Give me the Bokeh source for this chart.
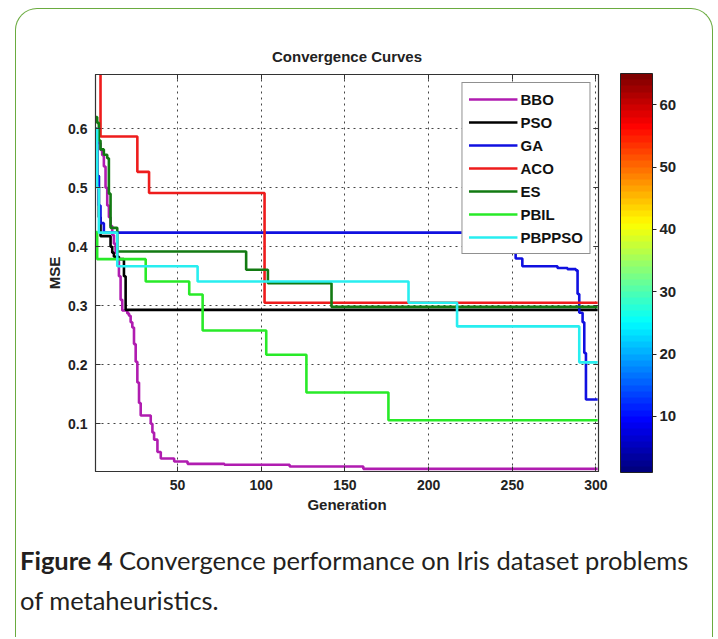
from bokeh.plotting import figure
from bokeh.models import (Range1d, LinearAxis, FixedTicker, Legend, LegendItem, ColorBar,
                          LinearColorMapper, Spacer)
from bokeh.layouts import column, row
from bokeh.core.properties import value
from bokeh.embed import file_html
from bokeh.resources import INLINE

# ---------------- data ----------------
bbo_gen = [1, 2, 4, 5, 6, 7, 8, 9, 10, 11, 12, 13, 14, 15, 16, 17, 20, 21, 22, 23,
           24, 25, 26, 27, 28, 34, 35, 36, 38, 40, 48, 56, 78, 117, 161, 301]
bbo_mse = [0.600, 0.576, 0.564, 0.555, 0.536, 0.500, 0.470, 0.450, 0.435, 0.420,
           0.405, 0.390, 0.375, 0.350, 0.310, 0.292, 0.287, 0.283, 0.272, 0.263,
           0.235, 0.205, 0.170, 0.135, 0.114, 0.100, 0.085, 0.073, 0.052, 0.041,
           0.036, 0.032, 0.0305, 0.0276, 0.0235, 0.0235]

pso_gen = [1, 2, 3, 4, 10, 11, 12, 15, 18, 19, 301]
pso_mse = [0.600, 0.520, 0.450, 0.418, 0.400, 0.390, 0.383, 0.379, 0.350, 0.293, 0.293]

ga_gen = [1, 2, 3, 4, 6, 248, 250, 252, 256, 277, 283, 288, 289, 290, 292, 293, 294, 301]
ga_mse = [0.580, 0.520, 0.470, 0.440, 0.424, 0.410, 0.395, 0.380, 0.367, 0.364,
          0.362, 0.360, 0.320, 0.288, 0.272, 0.220, 0.141, 0.141]

aco_gen = [1, 4, 26, 33, 102, 301]
aco_mse = [0.780, 0.587, 0.527, 0.491, 0.305, 0.305]

es_gen = [1, 2, 3, 4, 6, 8, 9, 10, 14, 91, 104, 142, 301]
es_mse = [0.620, 0.610, 0.580, 0.565, 0.556, 0.550, 0.490, 0.432, 0.392, 0.361,
          0.338, 0.298, 0.298]

pbil_gen = [1, 2, 31, 57, 65, 103, 127, 176, 301]
pbil_mse = [0.425, 0.379, 0.341, 0.319, 0.258, 0.217, 0.153, 0.106, 0.106]

pbppso_gen = [1, 2, 3, 14, 62, 188, 217, 290, 301]
pbppso_mse = [0.600, 0.500, 0.424, 0.367, 0.341, 0.305, 0.265, 0.204, 0.204]

series_names = ["BBO", "PSO", "GA", "ACO", "ES", "PBIL", "PBPPSO"]
series_colors = ["#b01cb0", "#000000", "#1010e0", "#ee1c1c", "#127a12", "#28ea28", "#28eef0"]

x_ticks = [50, 100, 150, 200, 250, 300]
y_ticks = [0.1, 0.2, 0.3, 0.4, 0.5, 0.6]
cbar_ticks = [10, 20, 30, 40, 50, 60]
cbar_low, cbar_high = 1, 65

title_text = "Convergence Curves"
x_label = "Generation"
y_label = "MSE"
caption_bold = "Figure 4"
caption_rest = "Convergence performance on Iris dataset problems"
caption_line2 = "of metaheuristics."


def jet(n):
    out = []
    for i in range(n):
        t = i / (n - 1)
        r = min(max(min(4 * t - 1.5, -4 * t + 4.5), 0), 1)
        g = min(max(min(4 * t - 0.5, -4 * t + 3.5), 0), 1)
        b = min(max(min(4 * t + 0.5, -4 * t + 2.5), 0), 1)
        out.append("#%02x%02x%02x" % (int(r * 255), int(g * 255), int(b * 255)))
    return out


AX_FONT = "Liberation Sans"
W = 696          # inner content width
FW, FH = 503, 397
P_H = 522
CAP_H = 106
AX_COL = "#333333"

p = figure(width=W, height=P_H, x_range=Range1d(1, 301.5), y_range=Range1d(0.019, 0.692),
           output_backend="svg", toolbar_location=None,
           min_border_left=79, min_border_right=W - 79 - FW,
           min_border_top=65, min_border_bottom=P_H - 65 - FH)
p.frame_align = False
p.background_fill_color = "white"
p.border_fill_alpha = 0
p.outline_line_color = AX_COL
p.outline_line_width = 1.2

for ax in (p.xaxis[0], p.yaxis[0]):
    ax.major_tick_in = 5
    ax.major_tick_out = 0
    ax.minor_tick_in = 0
    ax.minor_tick_out = 0
    ax.minor_tick_line_color = None
    ax.axis_line_color = AX_COL
    ax.major_tick_line_color = AX_COL
    ax.major_label_text_font = AX_FONT
    ax.major_label_text_font_style = "bold"
    ax.major_label_text_font_size = "14px"
    ax.major_label_text_color = "#222222"
    ax.axis_label_text_font = AX_FONT
    ax.axis_label_text_font_style = "bold"
    ax.axis_label_text_font_size = "15px"
    ax.axis_label_text_color = "#222222"
    ax.major_label_standoff = 8

p.xaxis[0].ticker = FixedTicker(ticks=x_ticks)
p.yaxis[0].ticker = FixedTicker(ticks=y_ticks)
p.xaxis[0].axis_label = x_label
p.yaxis[0].axis_label = y_label
p.xaxis[0].axis_label_standoff = 3
p.yaxis[0].axis_label_standoff = 2

# box axes on top/right: inward ticks only; the top one carries the chart title
top_ax = LinearAxis(ticker=FixedTicker(ticks=x_ticks), major_label_text_font_size="1px",
                    major_label_text_color=None, major_label_standoff=0,
                    major_tick_in=5, major_tick_out=0, minor_tick_in=0, minor_tick_out=0,
                    minor_tick_line_color=None, axis_line_color=AX_COL,
                    major_tick_line_color=AX_COL, axis_label=title_text,
                    axis_label_standoff=10, axis_label_text_font=AX_FONT,
                    axis_label_text_font_style="bold", axis_label_text_font_size="15px",
                    axis_label_text_color="#222222")
right_ax = LinearAxis(ticker=FixedTicker(ticks=y_ticks), major_label_text_font_size="1px",
                      major_label_text_color=None, major_label_standoff=0,
                      major_tick_in=5, major_tick_out=0, minor_tick_in=0, minor_tick_out=0,
                      minor_tick_line_color=None, axis_line_color=AX_COL,
                      major_tick_line_color=AX_COL)
p.add_layout(top_ax, "above")
p.add_layout(right_ax, "right")

for g in (p.xgrid[0], p.ygrid[0]):
    g.grid_line_color = "#444444"
    g.grid_line_dash = "2 4"
    g.grid_line_width = 1

data = [(bbo_gen, bbo_mse), (pso_gen, pso_mse), (ga_gen, ga_mse), (aco_gen, aco_mse),
        (es_gen, es_mse), (pbil_gen, pbil_mse), (pbppso_gen, pbppso_mse)]
items = []
for (xs, ys), name, col in zip(data, series_names, series_colors):
    r = p.step(xs, ys, mode="after", line_color=col, line_width=2.6)
    items.append(LegendItem(label=name, renderers=[r]))

legend = Legend(items=items, location="top_right", margin=8, padding=6, spacing=3,
                glyph_width=49, glyph_height=20, label_height=20, label_standoff=3,
                label_text_font=AX_FONT, label_text_font_style="bold",
                label_text_font_size="15px", label_text_color="#111111",
                border_line_color="#222222", border_line_width=1.5,
                background_fill_color="white", background_fill_alpha=1)
p.add_layout(legend, "center")

mapper = LinearColorMapper(palette=jet(64), low=cbar_low, high=cbar_high)
cbar = ColorBar(color_mapper=mapper, ticker=FixedTicker(ticks=cbar_ticks), width=32, height=399,
                location=(525, -1), padding=0, margin=0, bar_line_color="#222222",
                major_tick_out=4, major_tick_in=0, major_tick_line_color="#222222",
                minor_tick_line_color=None, label_standoff=3,
                major_label_text_font=AX_FONT, major_label_text_font_style="bold",
                major_label_text_font_size="15px", major_label_text_color="#222222",
                background_fill_alpha=0, border_line_color=None)
p.add_layout(cbar, "center")

# ---------------- caption ----------------
CAP_FONT = "Lato"
CAP_SIZE = "25.5px"
cap = figure(width=W, height=CAP_H, x_range=Range1d(0, W), y_range=Range1d(CAP_H, 0),
             output_backend="svg", toolbar_location=None, min_border=0,
             x_axis_location=None, y_axis_location=None)
cap.frame_align = False
cap.outline_line_color = None
cap.grid.visible = False
cap.background_fill_alpha = 0
cap.border_fill_alpha = 0
cap.text(x=[3.5], y=[28.5], text=[caption_bold], text_font=value(CAP_FONT),
         text_font_style="bold", text_font_size=CAP_SIZE, text_color="#231f20",
         text_baseline="alphabetic")
cap.text(x=[102.5, 3.5], y=[28.5, 68.5], text=[caption_rest, caption_line2],
         text_font=value(CAP_FONT), text_font_size=CAP_SIZE, text_color="#231f20",
         text_baseline="alphabetic")

inner = column(p, cap, styles={"border-top": "1.5px solid #6aab3f",
                               "border-left": "1.5px solid #6aab3f",
                               "border-right": "1.5px solid #6aab3f",
                               "border-radius": "22px 22px 0 0"})
page = column(Spacer(width=10, height=8), row(Spacer(width=15, height=10), inner))

open("out.html", "w").write(file_html(page, INLINE))
